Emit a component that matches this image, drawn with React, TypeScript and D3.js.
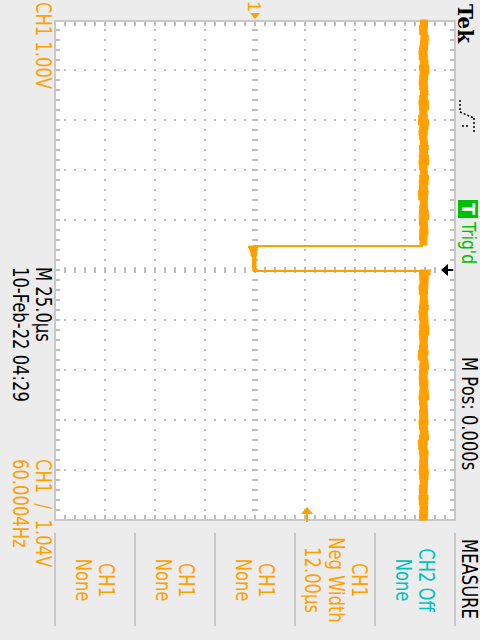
import React from "react";
import * as d3 from "d3";

// CH1 record: 1 V/div, 25 µs/div, trigger at t = 0 (screen is shown rotated 90°)
const recordTimes = d3.range(-125, 125.01, 2.5); // µs, one entry per sample

// trace envelope in volts for every sample; null while the pulse is low
const traceMin = [
  3.32, 3.3, 3.28, 3.31, 3.33, 3.29, 3.3, 3.26, 3.31, 3.3,
  3.28, 3.32, 3.27, 3.3, 3.29, 3.33, 3.26, 3.3, 3.28, 3.31,
  3.24, 3.3, 3.29, 3.27, 3.32, 3.3, 3.28, 3.31, 3.26, 3.3,
  3.29, 3.32, 3.27, 3.3, 3.28, 3.25, 3.3, 3.31, 3.28, 3.3,
  3.27, 3.31, 3.29, 3.3, 3.28, 3.32,
  null, null, null, null,
  3.3, 3.28, 3.31, 3.29, 3.27, 3.3, 3.32, 3.28, 3.3, 3.26,
  3.31, 3.29, 3.3, 3.27, 3.32, 3.28, 3.3, 3.24, 3.29, 3.31,
  3.28, 3.3, 3.27, 3.31, 3.29, 3.3, 3.26, 3.32, 3.28, 3.3,
  3.29, 3.27, 3.31, 3.3, 3.28, 3.25, 3.3, 3.29, 3.31, 3.28,
  3.3, 3.27, 3.32, 3.29, 3.28, 3.3, 3.26, 3.31, 3.29, 3.3, 3.28,
];
const traceMax = [
  3.44, 3.46, 3.43, 3.45, 3.48, 3.44, 3.46, 3.42, 3.47, 3.45,
  3.5, 3.44, 3.46, 3.43, 3.47, 3.45, 3.44, 3.49, 3.45, 3.43,
  3.46, 3.48, 3.44, 3.45, 3.42, 3.47, 3.46, 3.44, 3.5, 3.45,
  3.43, 3.46, 3.48, 3.44, 3.45, 3.47, 3.43, 3.46, 3.44, 3.49,
  3.45, 3.44, 3.47, 3.45, 3.43, 3.44,
  null, null, null, null,
  3.52, 3.48, 3.45, 3.47, 3.44, 3.46, 3.43, 3.48, 3.45, 3.44,
  3.47, 3.45, 3.5, 3.44, 3.46, 3.43, 3.47, 3.45, 3.44, 3.48,
  3.46, 3.43, 3.45, 3.47, 3.44, 3.49, 3.45, 3.43, 3.46, 3.44,
  3.47, 3.45, 3.44, 3.48, 3.46, 3.43, 3.45, 3.47, 3.44, 3.46,
  3.45, 3.48, 3.44, 3.46, 3.43, 3.45, 3.47, 3.44, 3.46, 3.45, 3.44,
];

// the negative pulse (low level)
const pulseTimes = [-12, -11, -10, -9, -7, -5, -3, -1, 0.5];
const pulseMin = [-0.12, -0.14, -0.08, -0.1, -0.06, -0.04, -0.06, -0.04, -0.04];
const pulseMax = [0.04, 0.06, 0.02, 0.04, 0.02, 0.02, 0.02, 0.02, 0.04];

// falling / rising edge: time, high level, low level
const edgeTimes = [-12, 0.5];
const edgeHigh = [3.36, 3.5];
const edgeLow = [-0.04, -0.04];

// graticule
const voltDivs = [-3, -2, -1, 0, 1, 2, 3];
const timeDivs = [-100, -75, -50, -25, 0, 25, 50, 75, 100];
const voltMinor = d3.range(-3.8, 3.81, 0.2);
const timeMinor = d3.range(-120, 120.1, 5);

const triggerLevelV = 1.04;

// readouts
const channelScale = "CH1 1.00V";
const timebase = "M 25.0µs";
const timestamp = "10-Feb-22 04:29";
const triggerSource = "CH1";
const triggerLevel = "1.04V";
const frequency = "60.0004Hz";
const horizPos = "M Pos: 0.000s";
const trigStatus = "Trig'd";
const brand = "Tek";
const measureTitle = "MEASURE";

// measure menu, left to right on screen
const measureSource = ["CH1", "CH1", "CH1", "CH1", "CH2 Off"];
const measureType = ["None", "None", "None", "Neg Width", "None"];
const measureValue = ["", "", "", "12.00µs", ""];

const ORANGE = "#ffa000";
const CYAN = "#00c0c0";
const GREEN = "#00c000";
const GRID = "#bdbdbd";
const FONT = "'DejaVu Sans', sans-serif";

type VProps = {
  x: number;
  y: number;
  fill: string;
  anchor?: "start" | "middle";
  size?: number;
  squeeze?: number;
  weight?: string;
  family?: string;
  children: React.ReactNode;
};

// text turned 90° clockwise, like the rest of the screen
const VText = ({ x, y, fill, anchor = "start", size = 21, squeeze = 0.78, weight, family, children }: VProps) => (
  <text
    transform={`translate(${x},${y}) rotate(90) scale(${squeeze},1)`}
    fill={fill}
    fontSize={size}
    fontFamily={family ?? FONT}
    fontWeight={weight}
    textAnchor={anchor}
    style={{ whiteSpace: "pre" }}
  >
    {children}
  </text>
);

export default function App() {
  const x = d3.scaleLinear().domain([-4, 4]).range([55, 455]); // volts
  const y = d3.scaleLinear().domain([-125, 125]).range([20, 520]); // µs

  const samples = recordTimes.map((t, i) => ({ t, lo: traceMin[i], hi: traceMax[i] }));
  const pulse = pulseTimes.map((t, i) => ({ t, lo: pulseMin[i], hi: pulseMax[i] }));

  const band = d3
    .area<{ t: number; lo: number | null; hi: number | null }>()
    .defined((d) => d.lo != null && d.hi != null)
    .curve(d3.curveStep)
    .y((d) => y(d.t))
    .x0((d) => x(d.lo as number))
    .x1((d) => x(d.hi as number));

  const dots: React.ReactNode[] = [];
  voltDivs.forEach((v) => {
    timeMinor.forEach((t) => {
      if (v === 0) dots.push(<rect key={`cv${t}`} x={x(0) - 3} y={y(t) - 1} width={6} height={2} fill={GRID} />);
      else dots.push(<rect key={`v${v}_${t}`} x={x(v) - 1} y={y(t) - 1} width={2} height={2} fill={GRID} />);
    });
  });
  timeDivs.forEach((t) => {
    voltMinor.forEach((v) => {
      if (t === 0) dots.push(<rect key={`ct${v}`} x={x(v) - 1} y={y(0) - 3} width={2} height={6} fill={GRID} />);
      else dots.push(<rect key={`t${t}_${v}`} x={x(v) - 1} y={y(t) - 1} width={2} height={2} fill={GRID} />);
    });
  });

  // minor ticks on the graticule frame
  const ticks: React.ReactNode[] = [];
  voltMinor.forEach((v) => {
    ticks.push(<rect key={`tt${v}`} x={x(v) - 1} y={22} width={2} height={4} fill={GRID} />);
    ticks.push(<rect key={`tb${v}`} x={x(v) - 1} y={515} width={2} height={4} fill={GRID} />);
  });
  timeMinor.forEach((t) => {
    ticks.push(<rect key={`tl${t}`} x={56} y={y(t) - 1} width={4} height={2} fill={GRID} />);
    ticks.push(<rect key={`tr${t}`} x={450} y={y(t) - 1} width={4} height={2} fill={GRID} />);
  });

  const gx = x(0);
  const tx = x(triggerLevelV);
  const ty = y(0);

  return (
    <svg width={480} height={640} style={{ position: "absolute", left: 0, top: 0, display: "block" }}>
      <rect width={480} height={640} fill="#ececec" />
      <rect x={55} y={21} width={400} height={499} fill="#fff" stroke="#c8c8c8" strokeWidth={2} />
      {dots}
      {ticks}

      {/* trace */}
      <path d={band(samples) ?? ""} fill={ORANGE} stroke={ORANGE} strokeWidth={1} />
      <path d={band(pulse) ?? ""} fill={ORANGE} stroke={ORANGE} strokeWidth={1} />
      {edgeTimes.map((t, i) => (
        <line key={t} x1={x(edgeHigh[i])} x2={x(edgeLow[i])} y1={y(t)} y2={y(t)} stroke={ORANGE} strokeWidth={2} />
      ))}

      {/* ground marker */}
      <VText x={gx - 7} y={1} fill={ORANGE} size={19} squeeze={1} family="'Liberation Sans', sans-serif">1</VText>
      <path d={`M${gx},19 L${gx - 5},13 L${gx + 5},13 Z`} fill={ORANGE} />
      {/* trigger level */}
      <path d={`M${tx},507 L${tx - 6},514 L${tx + 6},514 Z`} fill={ORANGE} />
      <rect x={tx - 1} y={513} width={2} height={9} fill={ORANGE} />
      {/* trigger position */}
      <path d={`M441,${ty} L448,${ty - 6} L448,${ty + 6} Z`} fill="#000" />
      <rect x={447} y={ty - 1} width={6} height={2} fill="#000" />

      {/* left readouts */}
      <VText x={36} y={2} fill={ORANGE}>{channelScale}</VText>
      <VText x={36} y={267} fill="#000">{timebase}</VText>
      <VText x={13} y={267} fill="#000">{timestamp}</VText>
      <VText x={36} y={459} fill={ORANGE}>{`${triggerSource}  /  ${triggerLevel}`}</VText>
      <VText x={13} y={459} fill={ORANGE}>{frequency}</VText>

      {/* right readouts */}
      <VText x={458} y={4} fill="#000" size={20} squeeze={1} weight="bold" family="'DejaVu Serif', serif">{brand}</VText>
      <path
        d="M460,100 V112 M460,112 L474,118 M474,118 V134 M462,126 H470"
        fill="none"
        stroke="#000"
        strokeWidth={1.5}
        strokeDasharray="2,2"
      />
      <rect x={458} y={200} width={20} height={18} fill={GREEN} />
      <VText x={462} y={209} fill="#fff" size={17} squeeze={1} weight="bold" anchor="middle">T</VText>
      <VText x={462} y={222} fill={GREEN} size={20}>{trigStatus}</VText>
      <VText x={462} y={357} fill="#000">{horizPos}</VText>
      <VText x={462} y={579} fill="#000" anchor="middle">{measureTitle}</VText>

      {/* measure menu */}
      {d3.range(6).map((i) => (
        <line key={i} x1={55 + 80 * i} x2={55 + 80 * i} y1={533} y2={626} stroke="#c8c8c8" strokeWidth={2} />
      ))}
      {measureSource.map((src, i) => {
        const left = 55 + 80 * i;
        const color = src.startsWith("CH2") ? CYAN : ORANGE;
        const lines = [src, measureType[i], measureValue[i]].filter((s) => s !== "");
        const top = lines.length === 3 ? 57 : 44;
        return lines.map((s, j) => (
          <VText key={`${i}_${j}`} x={left + top - j * 23.5} y={580} fill={color} anchor="middle">
            {s}
          </VText>
        ));
      })}
    </svg>
  );
}
